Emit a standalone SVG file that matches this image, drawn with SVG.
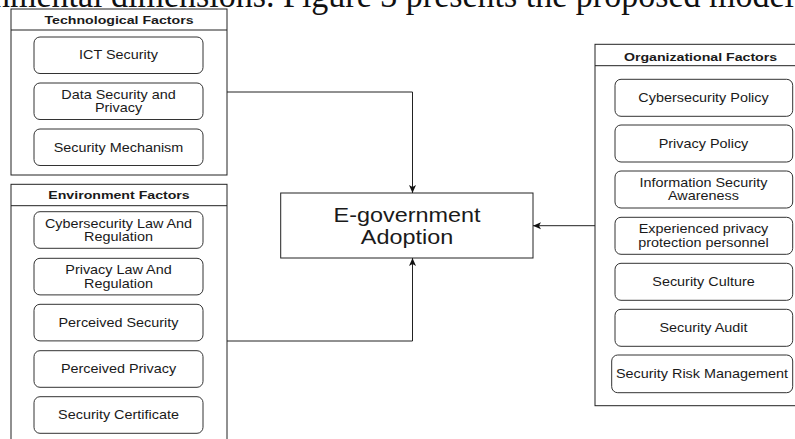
<svg xmlns="http://www.w3.org/2000/svg" width="795" height="439" viewBox="0 0 795 439">
<defs>
<marker id="arr" markerWidth="9" markerHeight="8" refX="8" refY="4" orient="auto" markerUnits="userSpaceOnUse">
<path d="M0,0.5 L8,4 L0,7.5 L2,4 Z" fill="#111"/>
</marker>
<style>
.cont{fill:#fff;stroke:#222;stroke-width:1}
.item{fill:#fff;stroke:#333;stroke-width:1}
.hdr{font-family:"Liberation Sans",Arial,sans-serif;font-weight:bold;font-size:11.8px;fill:#1a1a1a;text-anchor:middle}
.lbl{font-family:"Liberation Sans",Arial,sans-serif;font-size:12px;fill:#1a1a1a;text-anchor:middle}
.big{font-family:"Liberation Sans",Arial,sans-serif;font-size:19.5px;fill:#1a1a1a;text-anchor:middle}
.conn{fill:none;stroke:#222;stroke-width:1}
.doc{font-family:"Liberation Serif","Times New Roman",serif;font-size:36px;fill:#111}
</style>
</defs>
<rect x="0" y="0" width="795" height="439" fill="#fff"/>
<text class="doc" x="-7" y="6.5" textLength="801" lengthAdjust="spacingAndGlyphs">nmental dimensions. Figure 3 presents the proposed model</text>

<g id="technological-factors">
<rect class="cont" x="11" y="9" width="216" height="166"/>
<line class="cont" x1="11" y1="30" x2="227" y2="30"/>
<text class="hdr" transform="translate(119,24) scale(1.2,1)">Technological Factors</text>
</g>
<g id="ict-security">
<rect class="item" x="34" y="37" width="169" height="36.5" rx="6"/>
<text class="lbl" transform="translate(118.5,59.3) scale(1.2,1)">ICT Security</text>
</g>
<g id="data-security-privacy">
<rect class="item" x="34" y="83" width="169" height="36.5" rx="6"/>
<text class="lbl" transform="translate(118.5,98.8) scale(1.2,1)"><tspan x="0" y="0">Data Security and</tspan><tspan x="0" y="13.5">Privacy</tspan></text>
</g>
<g id="security-mechanism">
<rect class="item" x="34" y="129" width="169" height="36.5" rx="6"/>
<text class="lbl" transform="translate(118.5,151.6) scale(1.2,1)">Security Mechanism</text>
</g>

<g id="environment-factors">
<rect class="cont" x="11" y="184.3" width="216" height="270"/>
<line class="cont" x1="11" y1="205.7" x2="227" y2="205.7"/>
<text class="hdr" transform="translate(119,199) scale(1.2,1)">Environment Factors</text>
</g>
<g id="cybersecurity-law">
<rect class="item" x="34" y="211.7" width="169" height="36.6" rx="6"/>
<text class="lbl" transform="translate(118.5,227.5) scale(1.2,1)"><tspan x="0" y="0">Cybersecurity Law And</tspan><tspan x="0" y="13.5">Regulation</tspan></text>
</g>
<g id="privacy-law">
<rect class="item" x="34" y="258.3" width="169" height="36.6" rx="6"/>
<text class="lbl" transform="translate(118.5,274.1) scale(1.2,1)"><tspan x="0" y="0">Privacy Law And</tspan><tspan x="0" y="13.5">Regulation</tspan></text>
</g>
<g id="perceived-security">
<rect class="item" x="34" y="304.3" width="169" height="36.6" rx="6"/>
<text class="lbl" transform="translate(118.5,326.9) scale(1.2,1)">Perceived Security</text>
</g>
<g id="perceived-privacy">
<rect class="item" x="34" y="350.7" width="169" height="36.6" rx="6"/>
<text class="lbl" transform="translate(118.5,373.3) scale(1.2,1)">Perceived Privacy</text>
</g>
<g id="security-certificate">
<rect class="item" x="34" y="396.7" width="169" height="36.6" rx="6"/>
<text class="lbl" transform="translate(118.5,419.3) scale(1.2,1)">Security Certificate</text>
</g>

<g id="organizational-factors">
<rect class="cont" x="595" y="44.3" width="215" height="361.4"/>
<line class="cont" x1="595" y1="65.7" x2="810" y2="65.7"/>
<text class="hdr" transform="translate(700.5,60.7) scale(1.2,1)">Organizational Factors</text>
</g>
<g id="cybersecurity-policy">
<rect class="item" x="615" y="79.3" width="177.7" height="37" rx="6"/>
<text class="lbl" transform="translate(703.5,102.3) scale(1.2,1)">Cybersecurity Policy</text>
</g>
<g id="privacy-policy">
<rect class="item" x="615" y="125" width="177.7" height="37" rx="6"/>
<text class="lbl" transform="translate(703.5,147.8) scale(1.2,1)">Privacy Policy</text>
</g>
<g id="information-security-awareness">
<rect class="item" x="615" y="171" width="177.7" height="37" rx="6"/>
<text class="lbl" transform="translate(703.5,187) scale(1.2,1)"><tspan x="0" y="0">Information Security</tspan><tspan x="0" y="13.5">Awareness</tspan></text>
</g>
<g id="experienced-privacy-personnel">
<rect class="item" x="615" y="217.3" width="177.7" height="37" rx="6"/>
<text class="lbl" transform="translate(703.5,233.3) scale(1.2,1)"><tspan x="0" y="0">Experienced privacy</tspan><tspan x="0" y="13.5">protection personnel</tspan></text>
</g>
<g id="security-culture">
<rect class="item" x="615" y="263.3" width="177.7" height="37" rx="6"/>
<text class="lbl" transform="translate(703.5,286.1) scale(1.2,1)">Security Culture</text>
</g>
<g id="security-audit">
<rect class="item" x="615" y="309.3" width="177.7" height="37" rx="6"/>
<text class="lbl" transform="translate(703.5,332.1) scale(1.2,1)">Security Audit</text>
</g>
<g id="security-risk-management">
<rect class="item" x="611.7" y="355" width="181" height="37.7" rx="6"/>
<text class="lbl" transform="translate(702,378.1) scale(1.2,1)">Security Risk Management</text>
</g>

<g id="e-government-adoption">
<rect class="cont" x="280.7" y="193" width="252.3" height="65"/>
<text class="big" transform="translate(407,221.7) scale(1.2,1)"><tspan x="0" y="0">E-government</tspan><tspan x="0" y="22.3">Adoption</tspan></text>
</g>

<g id="connectors">
<polyline class="conn" points="227,92 412.5,92 412.5,193" marker-end="url(#arr)"/>
<polyline class="conn" points="227,341 412.5,341 412.5,258" marker-end="url(#arr)"/>
<polyline class="conn" points="595,225.7 533,225.7" marker-end="url(#arr)"/>
</g>
</svg>
